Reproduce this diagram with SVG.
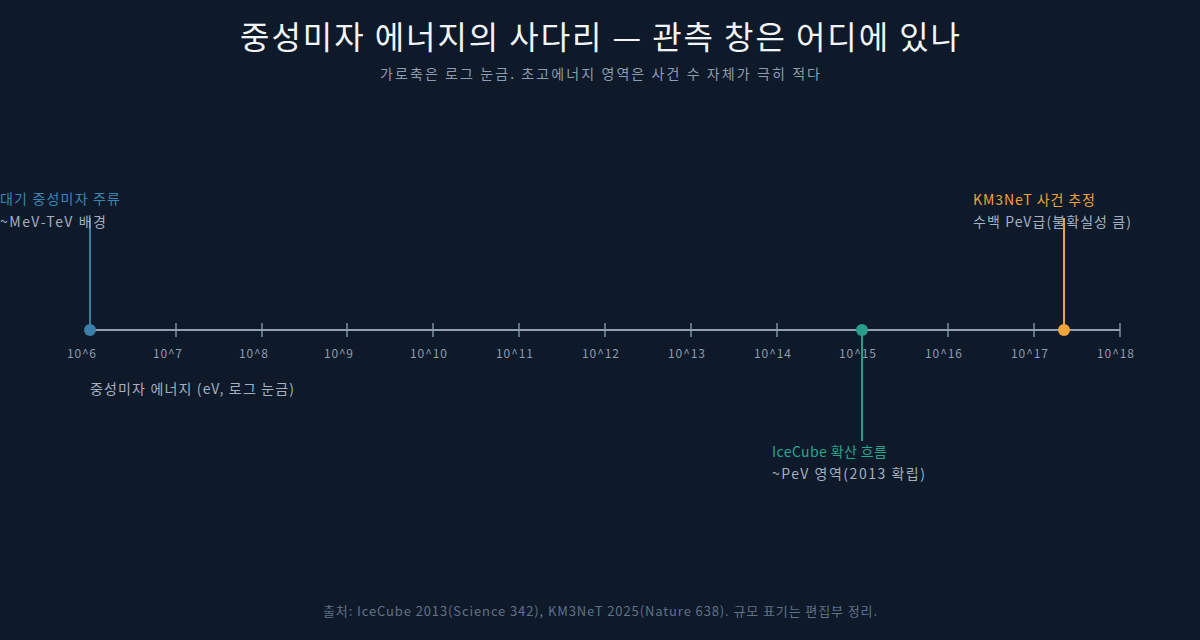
<svg xmlns="http://www.w3.org/2000/svg" width="1200" height="640" viewBox="0 0 1200 640">
<style>
text{font-family:"Noto Sans CJK KR","Noto Sans",sans-serif}
.title{font-size:32px;fill:#f2f5f8}
.sub{font-size:14px;fill:#8d9cae}
.tick{font-size:12px;fill:#8d9cae}
.ax{font-size:14px;fill:#a3b0c0}
.lbl{font-size:14px}
.note{font-size:14px;fill:#a3b0c0}
.foot{font-size:13px;fill:#627186}
.tk{stroke:#8fa0b5;stroke-width:1.3}
</style>
<rect width="1200" height="640" fill="#0e1a2a"/>
<text class="title" x="240" y="49" textLength="720" lengthAdjust="spacing">중성미자 에너지의 사다리 — 관측 창은 어디에 있나</text>
<text class="sub" x="380" y="79" textLength="440" lengthAdjust="spacing">가로축은 로그 눈금. 초고에너지 영역은 사건 수 자체가 극히 적다</text>
<g id="axis">
<line x1="90" y1="330" x2="1120" y2="330" stroke="#8fa0b5" stroke-width="2"/>
<g class="tk">
<line x1="176" y1="323" x2="176" y2="337"/><line x1="262" y1="323" x2="262" y2="337"/><line x1="347" y1="323" x2="347" y2="337"/><line x1="433" y1="323" x2="433" y2="337"/><line x1="519" y1="323" x2="519" y2="337"/><line x1="605" y1="323" x2="605" y2="337"/><line x1="691" y1="323" x2="691" y2="337"/><line x1="777" y1="323" x2="777" y2="337"/><line x1="948" y1="323" x2="948" y2="337"/><line x1="1034" y1="323" x2="1034" y2="337"/><line x1="1120" y1="323" x2="1120" y2="337"/>
</g>
<text class="tick" x="67" y="358" textLength="29">10^6</text><text class="tick" x="153" y="358" textLength="29">10^7</text><text class="tick" x="239" y="358" textLength="29">10^8</text><text class="tick" x="324" y="358" textLength="29">10^9</text><text class="tick" x="410" y="358" textLength="37">10^10</text><text class="tick" x="496" y="358" textLength="37">10^11</text><text class="tick" x="582" y="358" textLength="37">10^12</text><text class="tick" x="668" y="358" textLength="37">10^13</text><text class="tick" x="754" y="358" textLength="37">10^14</text><text class="tick" x="839" y="358" textLength="37">10^15</text><text class="tick" x="925" y="358" textLength="37">10^16</text><text class="tick" x="1011" y="358" textLength="37">10^17</text><text class="tick" x="1097" y="358" textLength="37">10^18</text>
<text class="ax" x="90" y="394" textLength="204" lengthAdjust="spacing">중성미자 에너지 (eV, 로그 눈금)</text>
</g>
<g id="connectors">
<line x1="90" y1="330" x2="90" y2="218" stroke="#3a7fa8" stroke-width="2"/>
<line x1="862" y1="330" x2="862" y2="441" stroke="#2a9d8a" stroke-width="2"/>
<line x1="1064" y1="330" x2="1064" y2="218" stroke="#f0a23c" stroke-width="2"/>
</g>
<g id="atmospheric">
<circle cx="90" cy="330" r="6" fill="#3a7fa8"/>
<text class="lbl" x="0" y="204" fill="#3a86b3" textLength="120" lengthAdjust="spacing">대기 중성미자 주류</text>
<text class="note" x="0" y="227" textLength="106" lengthAdjust="spacing">~MeV-TeV 배경</text>
</g>
<g id="icecube">
<circle cx="862" cy="330" r="6" fill="#2a9d8a"/>
<text class="lbl" x="772" y="457" fill="#2aa38f" textLength="115" lengthAdjust="spacing">IceCube 확산 흐름</text>
<text class="note" x="772" y="479" textLength="153" lengthAdjust="spacing">~PeV 영역(2013 확립)</text>
</g>
<g id="km3net">
<circle cx="1064" cy="330" r="6" fill="#f0a23c"/>
<text class="lbl" x="973" y="205" fill="#f0a23c" textLength="122" lengthAdjust="spacing">KM3NeT 사건 추정</text>
<text class="note" x="973" y="227" textLength="158" lengthAdjust="spacing">수백 PeV급(불확실성 큼)</text>
</g>
<text class="foot" x="323" y="616" textLength="554" lengthAdjust="spacing">출처: IceCube 2013(Science 342), KM3NeT 2025(Nature 638). 규모 표기는 편집부 정리.</text>
</svg>
